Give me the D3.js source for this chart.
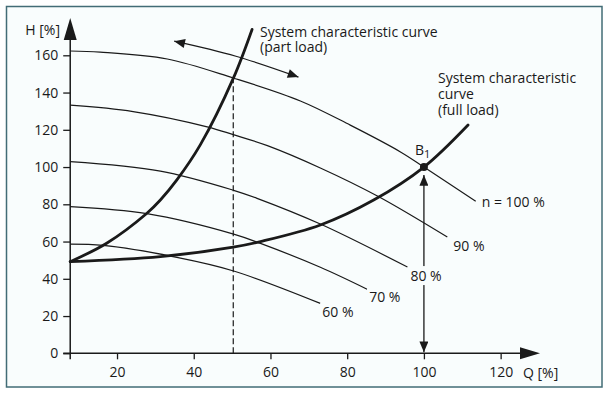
<!DOCTYPE html>
<html>
<head>
<meta charset="utf-8">
<script src="https://cdn.jsdelivr.net/npm/d3@7"></script>
<style>
  body { margin: 0; background: #fff; }
  svg text { font-family: "Open Sans", "Noto Sans", sans-serif; fill: #1a1a1a; }
</style>
</head>
<body>
<div id="chart"></div>
<script>
// pump curves at different speeds, [Q %, H %]
const pump100 = [[7.8,162.3],[15.6,161.7],[33.1,158],[50.3,147.8],[67.8,135.5],[80.8,122.5],[94,108],[100,100],[113.5,81.6]]
const pump90 = [[7.8,133.2],[24.2,129.8],[43.5,121.6],[50.3,117.4],[59.2,111.5],[73,99.5],[88,84.3],[106.1,62.4]]
const pump80 = [[7.8,102.9],[31.3,97.8],[50.4,87.5],[56.5,83.2],[73,69.4],[95.7,46.3]]
const pump70 = [[7.8,78.8],[27.8,75],[50.4,64],[57.4,59],[73,46.2],[85.2,34.4]]
const pump60 = [[7.8,58.6],[16.4,57.9],[35.6,51.5],[50.4,44.2],[73,26.8]]
const pumpLabels = ["n = 100 %", "90 %", "80 %", "70 %", "60 %"]

// system characteristic curves
const systemFull = [[7.8,49.2],[31.3,51.9],[50.3,57],[57.4,60],[73,68.9],[86.9,82.3],[100,100],[111.5,122.6]]
const systemPart = [[7.8,49.2],[17.3,59.1],[27.8,75.2],[31.3,82.3],[35.6,93.1],[41.7,111.9],[50.3,147.6],[55.2,173.9]]

// operating point B1, part-load flow and the speed-change arrow
const opPoint = [100, 100]
const partLoadQ = 50.3
const partLoadH = 148
const speedArrow = [[34.9,167.6],[51,159.5],[67.3,148.3]]

const xTicks = [20, 40, 60, 80, 100, 120]
const yTicks = [0, 20, 40, 60, 80, 100, 120, 140, 160]
const xStart = 7.8

const width = 610, height = 397
const fontSize = "14px"

const svg = d3.select("#chart").append("svg")
  .attr("width", width)
  .attr("height", height)

// marker for arrow heads
const defs = svg.append("defs")
defs.append("marker")
  .attr("id", "head")
  .attr("viewBox", "0 0 12 10")
  .attr("refX", 12).attr("refY", 5)
  .attr("markerUnits", "userSpaceOnUse")
  .attr("markerWidth", 12).attr("markerHeight", 9)
  .attr("orient", "auto-start-reverse")
  .append("path")
  .attr("d", "M0,0L12,5L0,10Z")
  .attr("fill", "#1a1a1a")

// frame
svg.append("rect")
  .attr("x", 6.5).attr("y", 6.5)
  .attr("width", 595.5).attr("height", 380.5)
  .attr("fill", "#f9fdfd")
  .attr("stroke", "#426c76")
  .attr("stroke-width", 1.5)

const x = d3.scaleLinear().domain([0, 130]).range([40.3, 539])
const y = d3.scaleLinear().domain([0, 160]).range([353.3, 55.3])

const line = d3.line()
  .x(d => x(d[0]))
  .y(d => y(d[1]))
  .curve(d3.curveCatmullRom)

// axes
const yAxis = svg.append("g")
  .attr("transform", `translate(${x(xStart)},0)`)
  .call(d3.axisLeft(y).tickValues(yTicks).tickSize(7).tickPadding(5))
yAxis.select(".domain").remove()

const xAxis = svg.append("g")
  .attr("transform", `translate(0,${y(0)})`)
  .call(d3.axisBottom(x).tickValues(xTicks).tickSize(6).tickPadding(8))
xAxis.select(".domain").remove()

svg.selectAll(".tick line").attr("stroke", "#1a1a1a").attr("stroke-width", 1.3)
svg.selectAll(".tick text")
  .style("font-family", '"Open Sans", sans-serif')
  .style("font-size", fontSize)
  .attr("fill", "#1a1a1a")

// axis lines with arrow heads
const ox = x(xStart), oy = y(0)
svg.append("line")
  .attr("x1", ox).attr("y1", oy + 6)
  .attr("x2", ox).attr("y2", 40)
  .attr("stroke", "#1a1a1a").attr("stroke-width", 1.5)
svg.append("path")
  .attr("d", `M${ox},18L${ox + 6.5},40L${ox - 6.5},40Z`)
  .attr("fill", "#1a1a1a")
svg.append("line")
  .attr("x1", ox - 7).attr("y1", oy)
  .attr("x2", 521).attr("y2", oy)
  .attr("stroke", "#1a1a1a").attr("stroke-width", 1.5)
svg.append("path")
  .attr("d", `M540,${oy}L520,${oy - 6}L520,${oy + 6}Z`)
  .attr("fill", "#1a1a1a")

svg.append("text")
  .attr("x", 60).attr("y", 35)
  .attr("text-anchor", "end")
  .style("font-size", fontSize)
  .text("H [%]")
svg.append("text")
  .attr("x", 523).attr("y", 378)
  .style("font-size", fontSize)
  .text("Q [%]")

// dashed part-load line
svg.append("line")
  .attr("x1", x(partLoadQ)).attr("y1", y(0))
  .attr("x2", x(partLoadQ)).attr("y2", y(partLoadH))
  .attr("stroke", "#1a1a1a").attr("stroke-width", 1.2)
  .attr("stroke-dasharray", "6,3")

// pump curves
const pumps = [pump100, pump90, pump80, pump70, pump60]
svg.selectAll(".pump")
  .data(pumps)
  .enter()
  .append("path")
  .attr("class", "pump")
  .attr("d", line)
  .attr("fill", "none")
  .attr("stroke", "#1a1a1a")
  .attr("stroke-width", 1.2)

// vertical arrow at operating point
svg.append("line")
  .attr("x1", x(opPoint[0])).attr("y1", y(0) - 1)
  .attr("x2", x(opPoint[0])).attr("y2", y(opPoint[1]) + 8)
  .attr("stroke", "#1a1a1a").attr("stroke-width", 1.3)
  .attr("marker-start", "url(#head)")
  .attr("marker-end", "url(#head)")

// system curves
svg.selectAll(".system")
  .data([systemFull, systemPart])
  .enter()
  .append("path")
  .attr("class", "system")
  .attr("d", line)
  .attr("fill", "none")
  .attr("stroke", "#1a1a1a")
  .attr("stroke-width", 2.8)
  .attr("stroke-linecap", "round")

// speed change arrow
svg.append("path")
  .attr("d", d3.line().x(d => x(d[0])).y(d => y(d[1])).curve(d3.curveNatural)(speedArrow))
  .attr("fill", "none")
  .attr("stroke", "#1a1a1a")
  .attr("stroke-width", 1.2)
  .attr("marker-start", "url(#head)")
  .attr("marker-end", "url(#head)")

// operating point
svg.append("circle")
  .attr("cx", x(opPoint[0])).attr("cy", y(opPoint[1]))
  .attr("r", 4)
  .attr("fill", "#1a1a1a")

const b1 = svg.append("text")
  .attr("x", 415).attr("y", 155)
  .style("font-size", fontSize)
b1.append("tspan").text("B")
b1.append("tspan").attr("dy", 3).style("font-size", "11px").text("1")

// pump curve labels, placed after the end of each curve
const labelOffsets = [[6, 6], [6, 14], [3, 14], [2, 13], [2, 14]]
pumps.forEach((p, i) => {
  const end = p[p.length - 1]
  const t = svg.append("text")
    .attr("x", x(end[0]) + labelOffsets[i][0])
    .attr("y", y(end[1]) + labelOffsets[i][1])
    .style("font-size", fontSize)
    .text(pumpLabels[i])
  const bb = t.node().getBBox()
  svg.insert("rect", () => t.node())
    .attr("x", bb.x - 2).attr("y", bb.y)
    .attr("width", bb.width + 4).attr("height", bb.height)
    .attr("fill", "#f9fdfd")
})

// annotations
const ann1 = svg.append("text").style("font-size", fontSize)
ann1.append("tspan").attr("x", 260).attr("y", 36.5).text("System characteristic curve")
ann1.append("tspan").attr("x", 260).attr("y", 51.5).text("(part load)")

const ann2 = svg.append("text").style("font-size", fontSize)
ann2.append("tspan").attr("x", 438).attr("y", 83).text("System characteristic")
ann2.append("tspan").attr("x", 438).attr("y", 98.5).text("curve")
ann2.append("tspan").attr("x", 438).attr("y", 114.5).text("(full load)")
</script>
</body>
</html>
